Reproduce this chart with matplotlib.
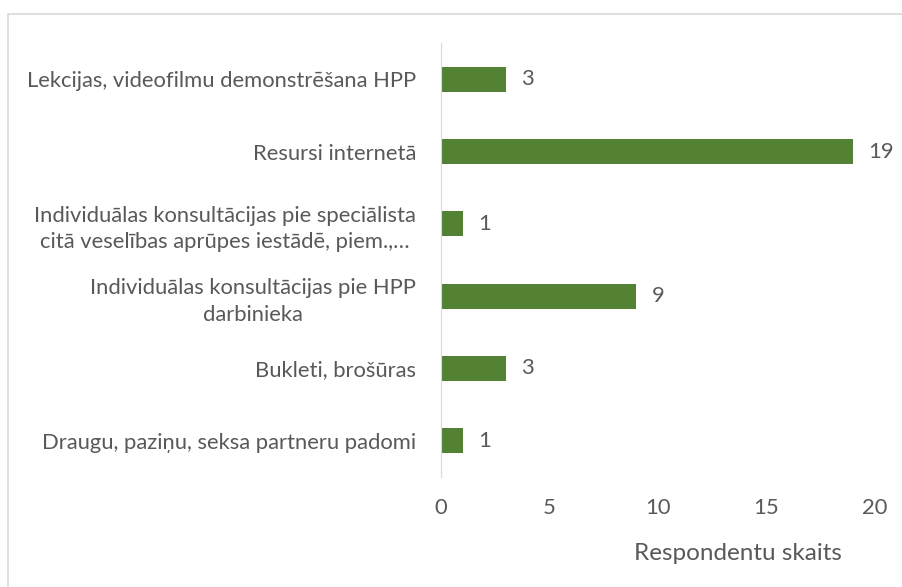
import matplotlib
matplotlib.use("Agg")
import matplotlib.pyplot as plt
from matplotlib.patches import Rectangle

plt.rcParams['font.family'] = ['Lato', 'DejaVu Sans']

categories = [
    "Draugu, paziņu, seksa partneru padomi",
    "Bukleti, brošūras",
    "Individuālas konsultācijas pie HPP\ndarbinieka",
    "Individuālas konsultācijas pie speciālista\ncitā veselības aprūpes iestādē, piem.,…",
    "Resursi internetā",
    "Lekcijas, videofilmu demonstrēšana HPP",
]
values = [1, 3, 9, 1, 19, 3]
xticks = [0, 5, 10, 15, 20]

txt = '#595959'
green = '#548235'
fs = 15.8

fig = plt.figure(figsize=(9.03, 5.87), dpi=100)
fig.patches.append(Rectangle((8 / 903, -0.1), 1.2, 1 - 14 / 587 + 0.1,
                             transform=fig.transFigure, fill=False,
                             edgecolor='#d9d9d9', linewidth=1.2))
ax = fig.add_axes([441 / 903, 1 - 477 / 587, (875 - 441) / 903, (477 - 43) / 587])

y = range(len(categories))
ax.barh(y, values, height=0.35, color=green)
for yi, v in zip(y, values):
    ax.annotate(str(v), (v, yi), xytext=(11, 0), textcoords='offset points',
                va='center', ha='left', fontsize=fs, color=txt)

ax.set_yticks(list(y))
ax.set_yticklabels(categories, fontsize=fs, color=txt, multialignment='center',
                   linespacing=1.4)
ax.set_ylim(-0.5, len(categories) - 0.5)
ax.set_xlim(0, 20)
ax.set_xticks(xticks)
ax.set_xticklabels([str(t) for t in xticks], fontsize=fs, color=txt)
ax.tick_params(axis='both', length=0)
ax.tick_params(axis='x', pad=15)
ax.tick_params(axis='y', pad=18)

for s in ['top', 'right', 'bottom']:
    ax.spines[s].set_visible(False)
ax.spines['left'].set_color('#d9d9d9')

fig.text(738 / 903, 1 - 553 / 587, "Respondentu skaits", ha='center', va='center',
         fontsize=17.5, color=txt)

fig.savefig("out.png", dpi=100)
